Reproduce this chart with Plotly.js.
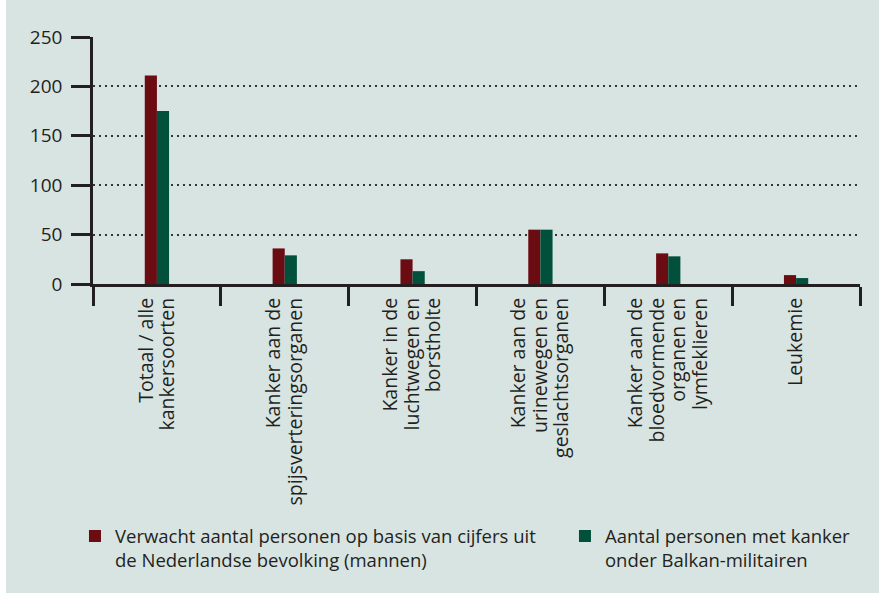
<!DOCTYPE html>
<html>
<head>
<meta charset="utf-8">
<script src="https://cdn.plot.ly/plotly-3.0.1.min.js"></script>
<style>
  html, body { margin: 0; padding: 0; background: #ffffff; }
  #chart { position: absolute; left: 6px; top: 0; width: 873px; height: 593px; }
</style>
</head>
<body>
<div id="chart"></div>
<script>
const categories = [
  "Totaal / alle<br>kankersoorten",
  "Kanker aan de<br>spijsverteringsorganen",
  "Kanker in de<br>luchtwegen en<br>borstholte",
  "Kanker aan de<br>urinewegen en<br>geslachtsorganen",
  "Kanker aan de<br>bloedvormende<br>organen en<br>lymfeklieren",
  "Leukemie"
];
const expectedValues = [211, 36, 25, 55, 31, 9];
const balkanValues = [175, 29, 13, 55, 28, 6];
const seriesNames = [
  "Verwacht aantal personen op basis van cijfers uit<br>de Nederlandse bevolking (mannen)",
  "Aantal personen met kanker<br>onder Balkan-militairen"
];
const yTicks = [0, 50, 100, 150, 200, 250];

const textColor = "#231f20";
const fontFamily = "Open Sans, sans-serif";

const data = [
  { type: "bar", x: categories, y: expectedValues, name: seriesNames[0],
    legendwidth: 445,
    marker: { color: "#6b0c12" }, hoverinfo: "y" },
  { type: "bar", x: categories, y: balkanValues, name: seriesNames[1],
    marker: { color: "#00503c" }, hoverinfo: "y" }
];

const layout = {
  width: 873, height: 593,
  paper_bgcolor: "#d8e4e1",
  plot_bgcolor: "rgba(0,0,0,0)",
  margin: { l: 87, r: 19, t: 37, b: 309, pad: 0, autoexpand: false },
  barmode: "group",
  bargap: 0.81,
  bargroupgap: 0,
  font: { family: fontFamily, color: textColor, size: 16 },
  showlegend: true,
  legend: {
    orientation: "h",
    x: -0.0235, xanchor: "left", xref: "paper",
    y: -0.945, yanchor: "top", yref: "paper",
    valign: "top",
    font: { family: fontFamily, size: 18.5, color: textColor },
    bgcolor: "rgba(0,0,0,0)",
    traceorder: "normal"
  },
  xaxis: {
    type: "category",
    range: [-0.5, 5.5],
    tickson: "boundaries",
    ticks: "outside", ticklen: 19, tickwidth: 2.5, tickcolor: textColor,
    ticklabelstandoff: 3,
    showline: true, linecolor: textColor, linewidth: 3,
    showgrid: false, zeroline: false,
    tickangle: -90,
    tickfont: { family: fontFamily, size: 19.5, color: textColor },
    fixedrange: true
  },
  yaxis: {
    range: [0, 250],
    tickvals: yTicks,
    ticktext: yTicks.map(String),
    ticks: "outside", ticklen: 19, tickwidth: 2.5, tickcolor: textColor,
    ticklabelstandoff: 5,
    showline: true, linecolor: textColor, linewidth: 2.5,
    showgrid: true, gridcolor: "#333333", gridwidth: 2, griddash: "2px,4px",
    zeroline: false,
    tickfont: { family: fontFamily, size: 19, color: textColor },
    fixedrange: true
  }
};

// Tighten the line spacing of multi-line category labels (the reference uses close leading)
function tightenTickLines(gd) {
  const newSpacing = 1.1, oldSpacing = 1.3;
  gd.querySelectorAll(".xtick text").forEach(function (t) {
    const lines = Array.from(t.querySelectorAll("tspan.line"));
    const n = lines.length;
    if (n < 2) return;
    const lastDy = parseFloat(lines[n - 1].getAttribute("dy") || "0");
    const shift = (n - 1) * (oldSpacing - newSpacing) / 2;
    const absolute = Math.abs(lastDy - (n - 1) * oldSpacing) < 0.05;
    lines.forEach(function (ln, i) {
      if (absolute) {
        ln.setAttribute("dy", (i * newSpacing + shift) + "em");
      } else {
        ln.setAttribute("dy", (i === 0 ? shift : newSpacing) + "em");
      }
    });
  });
}

Plotly.newPlot("chart", data, layout, { displayModeBar: false }).then(function (gd) {
  tightenTickLines(gd);
});
</script>
</body>
</html>
